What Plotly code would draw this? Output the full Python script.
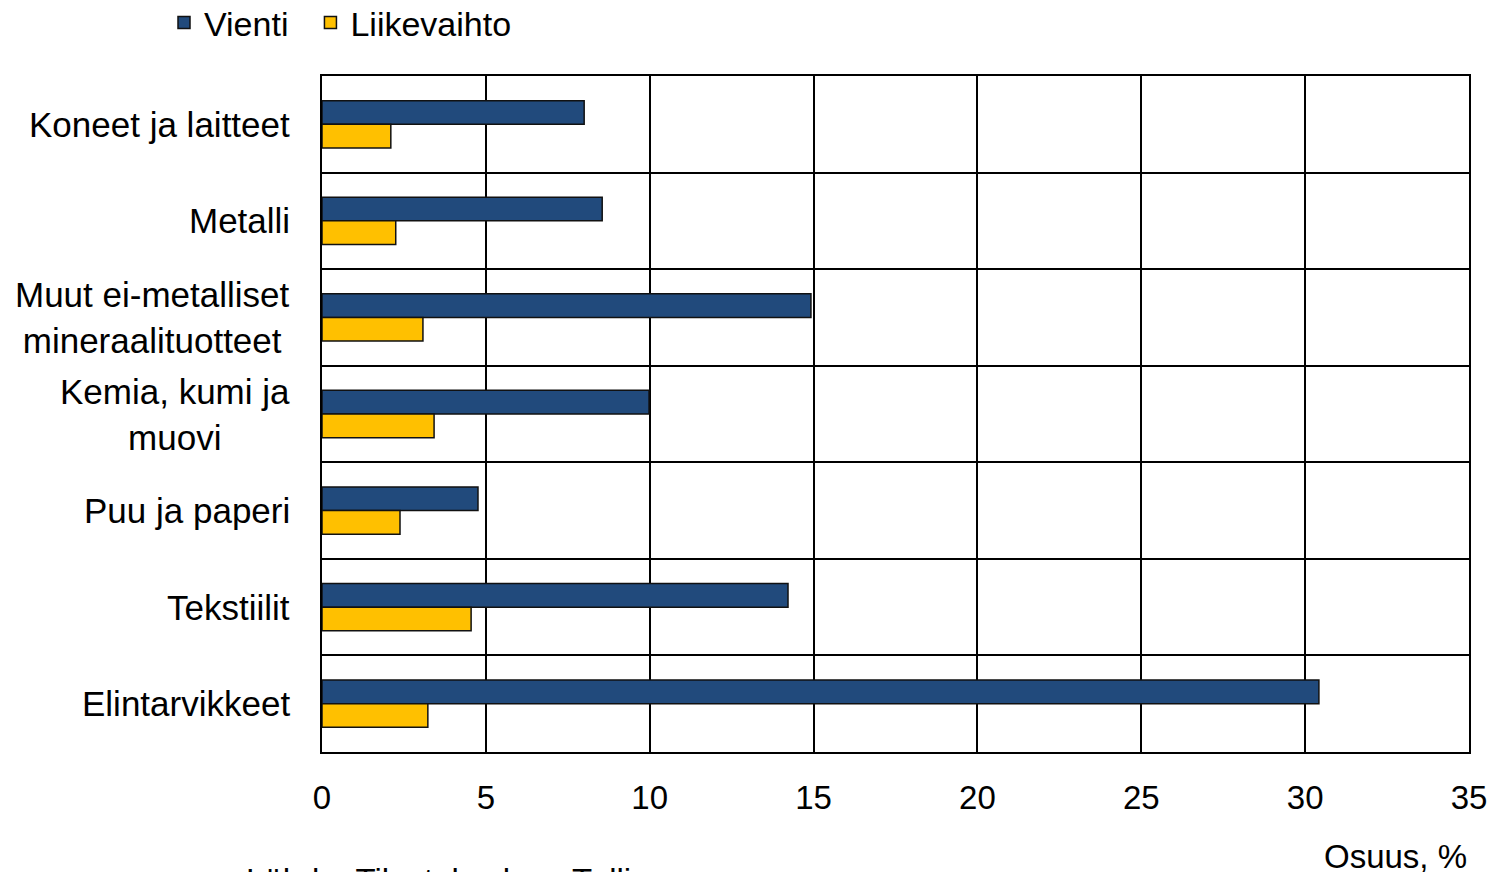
import plotly.graph_objects as go

categories = ["Koneet ja laitteet", "Metalli", "Muut ei-metalliset<br>mineraalituotteet",
              "Kemia, kumi ja<br>muovi", "Puu ja paperi", "Tekstiilit", "Elintarvikkeet"]
vienti = [8.0, 8.55, 14.92, 9.98, 4.76, 14.22, 30.42]
liikevaihto = [2.1, 2.25, 3.08, 3.42, 2.38, 4.55, 3.23]
x_ticks = [0, 5, 10, 15, 20, 25, 30, 35]

FONT = "Liberation Sans, Arial, sans-serif"
W, H = 1491, 864
fig = go.Figure()
fig.add_trace(go.Bar(y=categories, x=vienti, name="Vienti\u2002", orientation="h",
                     marker=dict(color="#214A7C", line=dict(color="#111111", width=1.5))))
fig.add_trace(go.Bar(y=categories, x=liikevaihto, name="Liikevaihto", orientation="h",
                     marker=dict(color="#FFC000", line=dict(color="#111111", width=1.5))))

for c in categories:
    fig.add_annotation(x=0, xref="paper", y=c, yref="y", text=c, showarrow=False,
                       xanchor="right", align="center", xshift=-30,
                       font=dict(size=35, color="#000000", family=FONT))

fig.add_annotation(x=1, xref="paper", y=-0.155, yref="paper", text="Osuus, %",
                   showarrow=False, xanchor="right", yanchor="middle",
                   font=dict(size=33, color="#000000", family=FONT))
fig.add_annotation(x=(245 - 322) / 1147, xref="paper", y=-0.161, yref="paper",
                   text="Lähde: Tilastokeskus, Tulli", showarrow=False,
                   xanchor="left", yanchor="top", borderpad=0,
                   font=dict(size=33, color="#000000", family=FONT))

fig.update_layout(
    width=W, height=H,
    margin=dict(l=314, r=30, t=68, b=120, autoexpand=False),
    paper_bgcolor="white", plot_bgcolor="white",
    barmode="group", bargap=0.51, bargroupgap=0,
    font=dict(family=FONT, size=33, color="#000000"),
    showlegend=True,
    legend=dict(orientation="h", x=156 / W, xref="container", xanchor="left",
                y=1 - 15 / H, yref="container", yanchor="middle",
                font=dict(size=34, family=FONT), itemwidth=30, traceorder="normal",
                bgcolor="rgba(0,0,0,0)"),
)
fig.update_xaxes(range=[0, 35], tickvals=x_ticks, ticktext=[str(v) for v in x_ticks],
                 showgrid=True, gridcolor="#000000", gridwidth=1.5,
                 showline=True, linecolor="#000000", linewidth=1.5, mirror=True,
                 ticks="", ticklabelstandoff=16, zeroline=False, automargin=False,
                 tickfont=dict(size=33, family=FONT))
fig.update_yaxes(autorange="reversed", type="category", tickson="boundaries",
                 showgrid=True, gridcolor="#000000", gridwidth=1.5,
                 showline=True, linecolor="#000000", linewidth=1.5, mirror=True,
                 ticks="", showticklabels=False, automargin=False)

fig.write_html("out.html")
